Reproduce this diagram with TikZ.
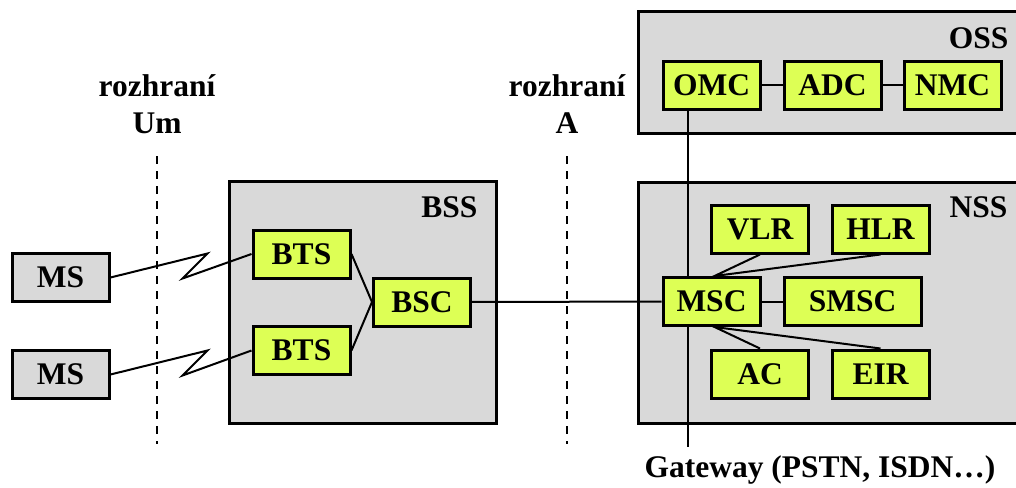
\documentclass[tikz,border=0pt]{standalone}
\usepackage{fontspec}
\setmainfont{Liberation Serif}
\usepackage{xcolor}
\definecolor{boxyellow}{RGB}{221,255,85}
\definecolor{areagray}{RGB}{217,217,217}

\begin{document}
\begin{tikzpicture}[x=1pt,y=-1pt,
  font=\fontsize{31.5}{37}\selectfont\bfseries,
  unit/.style={draw,line width=3pt,fill=boxyellow,minimum width=97pt,minimum height=48pt,inner sep=0pt},
  mobile/.style={unit,fill=areagray},
  area/.style={draw,line width=3pt,fill=areagray},
  link/.style={line width=2pt},
  iface/.style={line width=2pt,dash pattern=on 8pt off 7pt}]
\useasboundingbox (0,0) rectangle (1016,487);
\clip (0,0) rectangle (1016,487);

\draw[area] (229,181) rectangle (496,423);
\draw[area] (638,12) rectangle (1030,133);
\draw[area] (638,182) rectangle (1030,423);
\node[anchor=east] (bss) at (481,207) {BSS};
\node[anchor=east] (oss) at (1012,38) {OSS};
\node[anchor=east] (nss) at (1011,207) {NSS};

\node[align=center] (um) at (157,104) {rozhraní\\Um};
\node[align=center] (a) at (567,104) {rozhraní\\A};
\draw[iface] (157,156) -- (157,444);
\draw[iface] (567,156) -- (567,444);

\node[mobile] (MS1) at (60.5,277.5) {MS};
\node[mobile] (MS2) at (60.5,374.5) {MS};
\node[unit] (BTS1) at (301.5,254) {BTS};
\node[unit] (BTS2) at (301.5,350.5) {BTS};
\node[unit] (BSC) at (422,302) {BSC};

\node[unit] (OMC) at (711.5,85) {OMC};
\node[unit] (ADC) at (832.5,85) {ADC};
\node[unit] (NMC) at (952.5,85) {NMC};

\node (gwtext) at (820,470) {Gateway (PSTN, ISDN\dots)};
\coordinate (gw) at (688,447);
\draw[link] (OMC.south -| gw) -- (gw);

\node[unit] (VLR) at (760,229) {VLR};
\node[unit] (HLR) at (880.5,229) {HLR};
\node[unit] (MSC) at (711.5,301.5) {MSC};
\node[unit,minimum width=137pt] (SMSC) at (852.5,301.5) {SMSC};
\node[unit] (AC) at (760,374) {AC};
\node[unit] (EIR) at (880.5,374) {EIR};

\draw[link] (MS1.east) -- ++(97,-24) -- ++(-25,25) -- (BTS1.west);
\draw[link] (MS2.east) -- ++(97,-24) -- ++(-25,25) -- (BTS2.west);
\draw[link] (BTS1.east) -- (BSC.west) -- (BTS2.east);
\draw[link] (BSC) -- (MSC);
\draw[link] (OMC) -- (ADC) -- (NMC);
\draw[link] (MSC) -- (SMSC);
\draw[link] (VLR.south) -- ([xshift=3pt]MSC.north) -- (HLR.south);
\draw[link] (AC.north) -- ([xshift=3pt]MSC.south) -- (EIR.north);
\end{tikzpicture}
\end{document}
